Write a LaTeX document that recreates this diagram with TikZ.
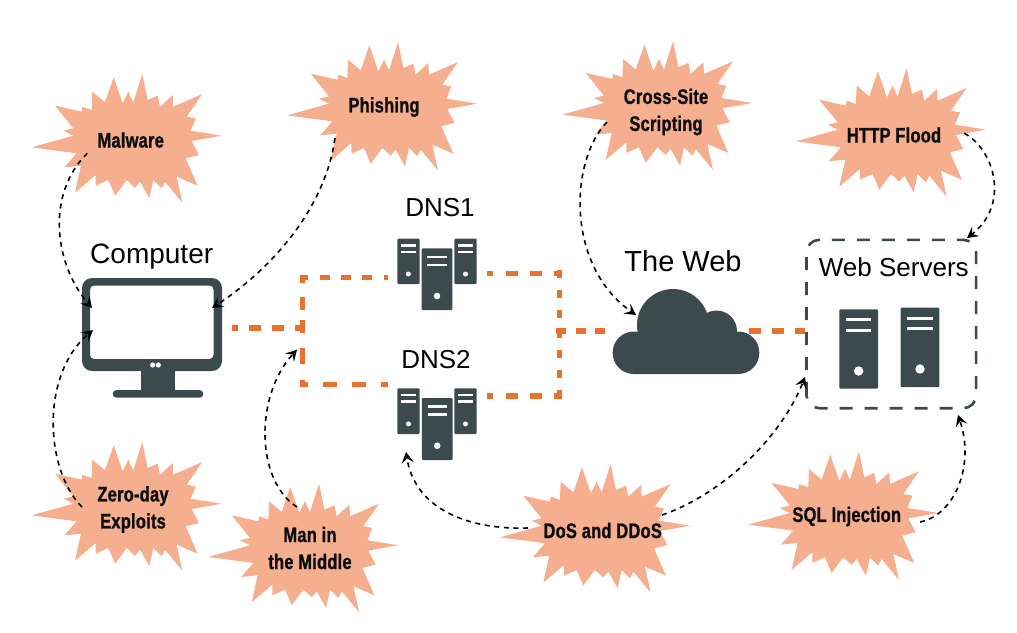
\documentclass[tikz,border=0pt]{standalone}
\usepackage{fontspec}
\usetikzlibrary{arrows.meta,calc}
\setmainfont{Liberation Sans}
\newfontfamily\burstfont[FakeStretch=0.786,FakeBold=1.1,LetterSpace=1]{Liberation Sans Bold}
\definecolor{slate}{HTML}{3C4A4E}
\definecolor{orangeline}{HTML}{E8722C}
\definecolor{burstfill}{HTML}{F5AF8E}
\newcommand{\burstat}[2]{\fill[burstfill,shift={(#1+25,#2+65)},x=.33333pt,y=-.33333pt]
 (20,247)--(145,212)--(115,197)--(145,190)--(90,122)--(170,140)--(172,125)--(200,135)--(202,80)--(240,112)--(266,37)--(293,115)--(310,80)--(325,112)--(352,27)--(368,105)--(398,92)--(405,125)--(443,90)--(445,125)--(532,87)--(485,155)--(512,160)--(497,197)--(590,212)--(500,228)--(522,270)--(482,280)--(518,362)--(455,335)--(472,413)--(420,350)--(410,370)--(385,345)--(373,400)--(345,350)--(330,368)--(305,345)--(270,392)--(250,345)--(212,362)--(212,330)--(150,383)--(168,302)--(118,307)--(155,265)--cycle;}
\newcommand{\srv}[9]{% x y w h inset bar1 bar2 doty r
 \fill[slate,rounded corners=1pt] (#1,#2) rectangle ++(#3,#4);
 \fill[white] (#1+#5,#2+#6) rectangle ++(#3-2*#5,2.6);
 \fill[white] (#1+#5,#2+#7) rectangle ++(#3-2*#5,2.6);
 \fill[white] (#1+#3/2,#2+#8) circle[radius=#9pt];}
\tikzset{
 lbl/.style={anchor=base,inner sep=0pt,font=\fontsize{#1}{#1}\selectfont,text=black},
 bursttext/.style={inner sep=0pt,align=center,text=black!95,font=\burstfont\fontsize{21}{27}\selectfont},
 hold/.style={inner sep=0pt,draw=none,fill=none},
 odash/.style={draw=orangeline,line width=5.6pt},
 atk/.style={draw=black,line width=1.6pt,dash pattern=on 5pt off 4.6pt,-{Stealth[length=11pt,width=12pt,inset=4.5pt]}},
 webdash/.style={draw=slate,line width=2.6pt,dash pattern=on 13pt off 12pt,rounded corners=13pt}
}
\begin{document}
\begin{tikzpicture}[x=1pt,y=-1pt]
\useasboundingbox (0,0) rectangle (1017,632);
% bursts
\burstat{0}{0}
\burstat{255.7}{-32}
\burstat{530.7}{-32.7}
\burstat{764.3}{-6}
\burstat{0}{368}
\burstat{176.7}{409.6}
\burstat{468.3}{390}
\burstat{716.6}{377.3}
% named nodes for the equipment
\node[hold,minimum width=140pt,minimum height=93pt] (computer) at (152,324.5) {};
\node[hold,minimum width=80pt,minimum height=71pt] (dns1) at (437,274.5) {};
\node[hold,minimum width=80pt,minimum height=71pt] (dns2) at (437,424.2) {};
\node[hold,minimum width=146pt,minimum height=85pt] (cloud) at (686,331) {};
\node[hold,minimum width=169.3pt,minimum height=168pt] (web) at (891.3,324) {};
\coordinate (jL) at (302.5,327.7);
\coordinate (tl) at (300,277.5);
\coordinate (tlv) at (302.5,275);
\coordinate (blv) at (302.5,387);
\coordinate (bl) at (300,384.3);
\coordinate (tlend) at (388,277.5);
\coordinate (blend) at (388,384.3);
\coordinate (tr) at (486.7,273.3);
\coordinate (trc) at (562.2,273.3);
\coordinate (br) at (486.7,395.7);
\coordinate (brc) at (562.2,395.7);
\coordinate (rvt) at (559.3,270);
\coordinate (rvb) at (559.3,398.5);
\coordinate (jR) at (556,330.7);
% orange links
\draw[odash,dash pattern=on 12.5pt off 10.5pt,dash phase=6.5pt] ($(computer.east)+(10,3.2)$) -- (jL -| blv) -- ++(2.5,0);
\draw[odash,dash pattern=on 10pt off 11.3pt,dash phase=1.7pt] (tl) -- (tlend);
\draw[odash,dash pattern=on 8pt off 13.7pt on 13.3pt off 10pt on 13pt off 15pt on 16pt off 16pt] (tlv) -- (blv);
\draw[odash,dash pattern=on 14pt off 15pt,dash phase=6pt] (bl) -- (blend);
\draw[odash,dash pattern=on 12pt off 12.3pt,dash phase=5.4pt] (tr) -- (trc);
\draw[odash,dash pattern=on 12pt off 12.3pt,dash phase=5.4pt] (br) -- (brc);
\draw[odash,dash pattern=on 8pt off 12pt] (rvt) -- (rvb);
\draw[odash,dash pattern=on 10pt off 9.5pt] (jR) -- (cloud.west |- jR);
\draw[odash,dash pattern=on 12pt off 11pt] ($(cloud.east)+(-10,-0.3)$) -- ($(web.west)+(-1,6.7)$);
% computer
\fill[slate,even odd rule] [rounded corners=10pt] (82,278) rectangle (222,371)
 [rounded corners=4pt] (90,285.5) rectangle (213.5,359);
\fill[slate] (140.7,371) rectangle (175.3,392);
\fill[slate,rounded corners=3.8pt] (112.7,390) rectangle (203.3,397.7);
\fill[white] (152.7,365) circle[radius=2.6pt] (158.3,365) circle[radius=2.6pt];
% DNS servers
\srv{397.3}{238.7}{22.2}{45.3}{4}{5.2}{12}{35.3}{2.5}
\srv{454.3}{238.7}{22.4}{45.3}{4}{5.2}{12}{35.3}{2.5}
\srv{421.7}{248.3}{30.6}{61.7}{5.6}{7.4}{15.4}{47.7}{3.3}
\srv{397.3}{388.4}{22.4}{45.6}{4}{5.2}{12}{35.5}{2.5}
\srv{454.3}{388.4}{22.4}{45.6}{4}{5.2}{12}{35.5}{2.5}
\srv{421.9}{398}{30.6}{62}{5.6}{7.4}{15.4}{47.7}{3.3}
% cloud
\fill[slate,rounded corners=21pt] (612.7,331.5) rectangle (759.3,374);
\fill[slate] (673,325) circle[radius=36pt] (716.5,331) circle[radius=20.5pt];
% web servers
\srv{839.3}{309.3}{38.7}{79.4}{6.8}{9}{19.7}{61.7}{4.7}
\srv{900.7}{307.7}{38.6}{79.3}{6.6}{9.3}{19.6}{61.3}{4.7}
\draw[webdash] (web.south west) rectangle (web.north east);
% burst labels
\node[bursttext] (mal) at (130.7,140) {Malware};
\node[bursttext] (phish) at (384,107) {Phishing};
\node[bursttext] (cross) at (666,112) {Cross-Site\\Scripting};
\node[bursttext] (http) at (894,135) {HTTP Flood};
\node[bursttext] (zero) at (133,509.5) {Zero-day\\Exploits};
\node[bursttext] (man) at (310,548) {Man in\\the Middle};
\node[bursttext] (dos) at (602.7,530.5) {DoS and DDoS};
\node[bursttext] (sql) at (846.7,516.5) {SQL Injection};
% attack arrows
\draw[atk] ($(mal)+(-43.4,13.3)$) .. controls (45,195) and (55,265) .. ($(computer)+(-60,-16.5)$);
\draw[atk] ($(phish)+(-49,31)$) .. controls (325,210) and (270,270) .. ($(computer)+(60,-16.5)$);
\draw[atk] ($(zero)+(-51,-2.5)$) .. controls (45,470) and (40,375) .. ($(computer)+(-59,5.5)$);
\draw[atk] ($(man)+(-13,-41)$) .. controls (255,480) and (255,395) .. ($(jL)+(-5.5,22)$);
\draw[atk] ($(dos)+(-74.7,-2.5)$) .. controls (470,530) and (415,510) .. ($(dns2)+(-31,27.8)$);
\draw[atk] ($(dos)+(59.3,-15.5)$) .. controls (720,495) and (780,440) .. ($(web)+(-86.3,53)$);
\draw[atk] ($(sql)+(73.3,5.5)$) .. controls (955,515) and (975,465) .. ($(web)+(66.7,91)$);
\draw[atk] ($(http)+(70.3,-1.7)$) .. controls (995,150) and (1010,205) .. ($(web)+(75.7,-86)$);
\draw[atk] ($(cross)+(-59,10)$) .. controls (570,160) and (565,265) .. ($(cloud)+(-50,-16)$);
% labels
\node[lbl=28] (lcomp) at (151.7,263) {Computer};
\node[lbl=26] (ldns1) at (440,216.7) {DNS1};
\node[lbl=26] (ldns2) at (436,368.3) {DNS2};
\node[lbl=29] (lweb) at (683,271.7) {The Web};
\node[lbl=26] (lsrv) at (893.8,276) {Web Servers};
\end{tikzpicture}
\end{document}
